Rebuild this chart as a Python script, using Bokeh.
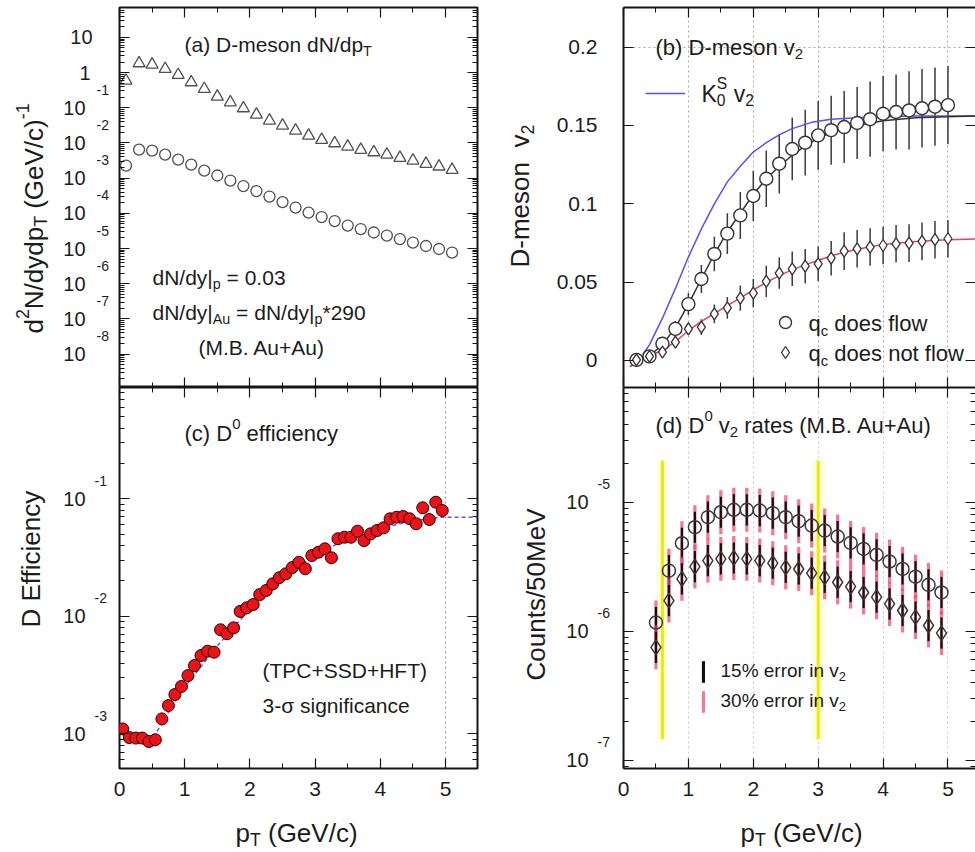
import math
from bokeh.plotting import figure
from bokeh.models import (Range1d, FixedTicker, LinearAxis, LogAxis, Label, Legend, LegendItem,
                          CustomJSTickFormatter, ColumnDataSource)
from bokeh.layouts import row, column
from bokeh.embed import file_html
from bokeh.resources import INLINE

FONT = "Liberation Sans"
INK = "#1c1c1c"
FRAME = "#151515"

# ---------------- (a) D-meson dN/dpT ----------------
pt_spec = [0.1, 0.3, 0.5, 0.7, 0.9, 1.1, 1.3, 1.5, 1.7, 1.9, 2.1, 2.3, 2.5,
           2.7, 2.9, 3.1, 3.3, 3.5, 3.7, 3.9, 4.1, 4.3, 4.5, 4.7, 4.9, 5.1]
spec_auau = [0.59, 1.84, 1.69, 1.27, 0.86, 0.53, 0.344, 0.208, 0.143, 0.0968, 0.064,
             0.0433, 0.0312, 0.0225, 0.0162, 0.01225, 0.0098, 0.0079, 0.00637, 0.00544,
             0.00468, 0.00377, 0.00316, 0.00255, 0.00214, 0.00172]
spec_pp = [2.28e-3, 6.49e-3, 6.08e-3, 4.68e-3, 3.37e-3, 2.43e-3, 1.64e-3, 1.19e-3,
           8.55e-4, 5.97e-4, 4.30e-4, 3.00e-4, 2.09e-4, 1.46e-4, 1.05e-4, 7.85e-5,
           6.04e-5, 4.50e-5, 3.58e-5, 2.85e-5, 2.34e-5, 1.86e-5, 1.48e-5, 1.18e-5,
           9.68e-6, 7.69e-6]

# ---------------- (b) D-meson v2 ----------------
pt_v2 = [0.2, 0.4, 0.6, 0.8, 1.0, 1.2, 1.4, 1.6, 1.8, 2.0, 2.2, 2.4, 2.6,
         2.8, 3.0, 3.2, 3.4, 3.6, 3.8, 4.0, 4.2, 4.4, 4.6, 4.8, 5.0]
v2_flow = [0.0004, 0.0026, 0.0107, 0.0202, 0.036, 0.052, 0.068, 0.081, 0.0926, 0.105,
           0.116, 0.1256, 0.135, 0.139, 0.1437, 0.147, 0.149, 0.1516, 0.154, 0.1575,
           0.1586, 0.1596, 0.161, 0.162, 0.163]
v2_flow_err = [0.001, 0.002, 0.004, 0.005, 0.007, 0.009, 0.011, 0.013, 0.015, 0.016,
               0.018, 0.019, 0.020, 0.021, 0.022, 0.022, 0.023, 0.023, 0.024, 0.024,
               0.024, 0.025, 0.025, 0.025, 0.025]
v2_noflow = [0.0004, 0.0026, 0.0053, 0.0117, 0.0202, 0.0213, 0.0298, 0.0336, 0.0398,
             0.043, 0.0505, 0.0558, 0.0585, 0.0602, 0.0617, 0.0653, 0.0698, 0.0713,
             0.0724, 0.0734, 0.0745, 0.0749, 0.076, 0.0771, 0.0777]
v2_noflow_err = [0.0008, 0.0015, 0.002, 0.003, 0.004, 0.005, 0.006, 0.007, 0.008, 0.009,
                 0.010, 0.010, 0.011, 0.011, 0.011, 0.011, 0.012, 0.012, 0.012, 0.012,
                 0.012, 0.012, 0.012, 0.012, 0.012]
fit_pt = [0.1, 0.2, 0.4, 0.6, 0.8, 1.0, 1.2, 1.4, 1.6, 1.8, 2.0, 2.2, 2.4, 2.6, 2.8,
          3.0, 3.3, 3.6, 4.0, 4.5, 5.0, 5.42]
fit_flow = [-0.004, -0.001, 0.003, 0.010, 0.021, 0.036, 0.052, 0.068, 0.082, 0.094,
            0.106, 0.116, 0.124, 0.131, 0.137, 0.142, 0.147, 0.150, 0.153, 0.155,
            0.1555, 0.156]
fit_noflow = [-0.004, -0.001, 0.003, 0.0065, 0.012, 0.019, 0.025, 0.030, 0.035, 0.040,
              0.045, 0.050, 0.054, 0.058, 0.061, 0.064, 0.068, 0.071, 0.074, 0.076,
              0.077, 0.0775]
ks_pt = [0.3, 0.4, 0.6, 0.8, 1.0, 1.2, 1.4, 1.6, 1.8, 2.0, 2.2, 2.4, 2.6, 2.9, 3.2,
         3.6, 4.0, 4.5, 5.0, 5.42]
ks_v2 = [0.004, 0.010, 0.027, 0.046, 0.066, 0.084, 0.100, 0.114, 0.124, 0.133, 0.139,
         0.144, 0.148, 0.152, 0.154, 0.155, 0.1555, 0.156, 0.156, 0.156]
v2_ticks = [0, 0.05, 0.1, 0.15, 0.2]
v2_tick_text = ["0", "0.05", "0.1", "0.15", "0.2"]

# ---------------- (c) D0 efficiency ----------------
pt_eff = [0.05, 0.15, 0.25, 0.35, 0.45, 0.55, 0.65, 0.75, 0.85, 0.95, 1.05, 1.15, 1.25,
          1.35, 1.45, 1.55, 1.65, 1.75, 1.85, 1.95, 2.05, 2.15, 2.25, 2.35, 2.45, 2.55,
          2.65, 2.75, 2.85, 2.95, 3.05, 3.15, 3.25, 3.35, 3.45, 3.55, 3.65, 3.75, 3.85,
          3.95, 4.05, 4.15, 4.25, 4.35, 4.45, 4.55, 4.65, 4.75, 4.85, 4.95]
eff = [1.10e-3, 9.3e-4, 9.2e-4, 9.2e-4, 8.6e-4, 8.9e-4, 1.34e-3, 1.74e-3, 2.16e-3,
       2.53e-3, 3.13e-3, 3.81e-3, 4.64e-3, 5.05e-3, 4.95e-3, 7.68e-3, 7.10e-3, 7.98e-3,
       1.10e-2, 1.18e-2, 1.26e-2, 1.53e-2, 1.66e-2, 1.89e-2, 2.13e-2, 2.30e-2, 2.60e-2,
       2.88e-2, 2.54e-2, 3.29e-2, 3.51e-2, 3.75e-2, 3.15e-2, 4.57e-2, 4.71e-2, 4.71e-2,
       5.30e-2, 4.41e-2, 5.03e-2, 5.37e-2, 5.66e-2, 6.76e-2, 6.97e-2, 7.06e-2, 6.76e-2,
       6.13e-2, 8.38e-2, 6.67e-2, 9.35e-2, 7.95e-2]
eff_fit_pt = [0.45, 0.6, 0.8, 1.0, 1.5, 2.0, 2.5, 3.0, 3.5, 4.0, 4.5, 4.95, 5.5]
eff_fit = [8.4e-4, 1.1e-3, 1.7e-3, 2.5e-3, 5.6e-3, 1.15e-2, 2.15e-2, 3.3e-2, 4.6e-2,
           5.6e-2, 6.5e-2, 6.97e-2, 6.97e-2]

# ---------------- (d) D0 v2 rates ----------------
pt_rate = [0.5, 0.7, 0.9, 1.1, 1.3, 1.5, 1.7, 1.9, 2.1, 2.3, 2.5, 2.7, 2.9, 3.1, 3.3,
           3.5, 3.7, 3.9, 4.1, 4.3, 4.5, 4.7, 4.9]
rate_flow = [1.17e-6, 2.95e-6, 4.81e-6, 6.40e-6, 7.66e-6, 8.36e-6, 8.73e-6, 8.73e-6,
             8.61e-6, 8.22e-6, 7.66e-6, 7.13e-6, 6.59e-6, 6.03e-6, 5.42e-6, 4.84e-6,
             4.35e-6, 3.91e-6, 3.47e-6, 3.04e-6, 2.65e-6, 2.29e-6, 2.00e-6]
rate_noflow = [7.52e-7, 1.73e-6, 2.55e-6, 3.17e-6, 3.53e-6, 3.64e-6, 3.70e-6, 3.64e-6,
               3.53e-6, 3.37e-6, 3.13e-6, 3.04e-6, 2.82e-6, 2.62e-6, 2.40e-6, 2.22e-6,
               2.00e-6, 1.84e-6, 1.63e-6, 1.45e-6, 1.29e-6, 1.11e-6, 9.7e-7]
err15_factor = 1.32   # spread of the counts for a 15% v2 error
err30_factor = 1.48   # spread of the counts for a 30% v2 error
window_pt = [0.6, 3.0]
window_lo = [1.46e-7, 1.46e-7]
window_hi = [2.1e-5, 2.1e-5]

# Liberation Sans advance widths (1/1000 em), used to lay out sub/superscripts
ADV = {" ": 278, "(": 333, ")": 333, "*": 389, "+": 584, "-": 333, ".": 278, "/": 278,
       "=": 584, "%": 889, "|": 260, "σ": 571,
       "a": 556, "b": 556, "c": 500, "d": 556, "e": 556, "f": 278, "g": 556, "h": 556,
       "i": 222, "l": 222, "m": 833, "n": 556, "o": 556, "p": 556, "q": 556, "r": 333,
       "s": 500, "t": 278, "u": 556, "v": 500, "w": 722, "y": 500,
       "A": 667, "B": 667, "C": 722, "D": 722, "E": 667, "F": 611, "G": 778, "H": 722,
       "K": 667, "M": 833, "N": 722, "P": 667, "S": 667, "T": 611, "V": 667}


def text_width(s, size):
    return sum(ADV.get(ch, 556) for ch in s) / 1000.0 * size


def rich_text(p, X, Y, origin, parts, size, angle=0.0, color=INK):
    """Lay out text with sub/superscripts; X, Y are page pixels of the start point,
    origin is the page position of the frame's bottom-left corner."""
    fx, fy = origin
    sx0, sy0 = X - fx, fy - Y
    adv = 0.0

    def put(txt, fs, shift, a):
        lead = len(txt) - len(txt.lstrip(" "))
        a += text_width(" " * lead, fs)
        txt = txt.strip(" ")
        if angle:
            x, y = sx0 - shift, sy0 + a
        else:
            x, y = sx0 + a, sy0 + shift
        p.add_layout(Label(x=x, y=y, x_units="screen", y_units="screen", text=txt,
                           angle=angle, text_font=FONT, text_font_size=f"{fs:.1f}px",
                           text_color=color, text_align="left", text_baseline="middle"))

    for txt, kind in parts:
        if kind == "n":
            put(txt, size, 0.0, adv)
            adv += text_width(txt, size)
        elif kind == "sub":
            fs = 0.68 * size
            put(txt, fs, -0.30 * size, adv)
            adv += text_width(txt, fs)
        elif kind == "sup":
            fs = 0.68 * size
            put(txt, fs, 0.42 * size, adv)
            adv += text_width(txt, fs)
        else:  # stacked superscript / subscript
            sup, sub = txt
            fs = 0.68 * size
            put(sup, fs, 0.42 * size, adv)
            put(sub, fs, -0.30 * size, adv)
            adv += max(text_width(sup, fs), text_width(sub, fs))


def decade_labels(t, exps, x_ten, x_exp, x_one=None, x_top=None, size=20, sup_size=14):
    """Power-of-ten tick labels, placed on a text strip sharing the panel's y range."""
    for e in exps:
        if e == 1:
            txt, xr = "10", x_top
        elif e == 0:
            txt, xr = "1", x_one
        else:
            txt, xr = "10", x_ten
        t.add_layout(Label(x=xr, y=10.0 ** e, x_units="screen", y_units="data", text=txt,
                           text_font=FONT, text_font_size=f"{size}px", text_color=INK,
                           text_align="right", text_baseline="middle"))
        if e < 0:
            t.add_layout(Label(x=x_exp, y=10.0 ** e, x_units="screen", y_units="data",
                               y_offset=18, text=str(e), text_font=FONT,
                               text_font_size=f"{sup_size}px", text_color=INK,
                               text_align="left", text_baseline="middle"))


def style_axis(ax, ticks, minor, labels=False, line=True):
    ax.ticker = FixedTicker(ticks=ticks, minor_ticks=minor)
    ax.major_tick_in = 10
    ax.major_tick_out = 0
    ax.minor_tick_in = 5
    ax.minor_tick_out = 0
    ax.major_tick_line_color = FRAME
    ax.minor_tick_line_color = FRAME
    ax.major_tick_line_width = 1.2
    ax.minor_tick_line_width = 1
    ax.axis_line_color = FRAME if line else None
    ax.axis_line_width = 2
    if labels:
        ax.major_label_text_font = FONT
        ax.major_label_text_font_size = "21px"
        ax.major_label_text_color = INK
    else:
        ax.formatter = CustomJSTickFormatter(code="return '';")
        ax.major_label_text_font_size = "0px"
        ax.major_label_standoff = 0


def make_panel(width, height, x_end, y_lo, y_hi, log_y, b_left, b_top, b_bottom, b_right, outline):
    p = figure(width=width, height=height, x_range=Range1d(0, x_end),
               y_range=Range1d(y_lo, y_hi), y_axis_type="log" if log_y else "linear",
               output_backend="svg", toolbar_location=None,
               min_border_left=b_left, min_border_top=b_top,
               min_border_bottom=b_bottom, min_border_right=b_right)
    p.background_fill_color = "white"
    p.border_fill_color = "white"
    p.outline_line_color = FRAME if outline else None
    p.outline_line_width = 2
    p.xgrid.grid_line_color = None
    p.ygrid.grid_line_color = None
    p.add_layout(LinearAxis(), "above")
    p.add_layout(LogAxis() if log_y else LinearAxis(), "right")
    return p


def make_text_strip(width, height, y_range, log_y, b_top, b_bottom):
    """Axis-free canvas holding tick labels and titles beside a panel."""
    t = figure(width=width, height=height, x_range=Range1d(0, 1), y_range=y_range,
               y_axis_type="log" if log_y else "linear", x_axis_location=None,
               y_axis_location=None, output_backend="svg", toolbar_location=None,
               min_border_left=0, min_border_right=0, min_border_top=b_top,
               min_border_bottom=b_bottom)
    t.outline_line_color = None
    t.background_fill_color = "white"
    t.border_fill_color = "white"
    t.xgrid.visible = False
    t.ygrid.visible = False
    return t


X_MAJOR = [0, 1, 2, 3, 4, 5]
X_MINOR = [0.5, 1.5, 2.5, 3.5, 4.5]


def log_minor(e0, e1):
    return [k * 10.0 ** e for e in range(e0, e1) for k in range(2, 10)]


ORIGIN_A = (119, 387)
ORIGIN_B = (623, 387)
ORIGIN_C = (119, 768)
ORIGIN_D = (623, 768)

# ======================= (a) =======================
pa = make_panel(364, 387, 5.49, 10 ** -8.95, 10 ** 1.85, True, 3, 7, 0, 3, True)
style_axis(pa.below[0], X_MAJOR, X_MINOR, line=False)
style_axis(pa.above[0], X_MAJOR, X_MINOR, line=False)
dec_a = list(range(-8, 2))
for ax in (pa.left[0], pa.right[0]):
    style_axis(ax, [10.0 ** e for e in dec_a], log_minor(-9, 2), line=False)
pa.scatter(pt_spec, spec_auau, marker="triangle", size=12, fill_color=None,
           line_color="#505050", line_width=1.3)
pa.scatter(pt_spec, spec_pp, marker="circle", size=11, fill_color=None,
           line_color="#505050", line_width=1.3)
rich_text(pa, 184, 44, ORIGIN_A, [("(a) D-meson dN/dp", "n"), ("T", "sub")], 21)
rich_text(pa, 152, 277, ORIGIN_A, [("dN/dy|", "n"), ("p", "sub"), (" = 0.03", "n")], 21)
rich_text(pa, 152, 312, ORIGIN_A, [("dN/dy|", "n"), ("Au", "sub"), (" = dN/dy|", "n"),
                                   ("p", "sub"), ("*290", "n")], 21)
rich_text(pa, 198, 347, ORIGIN_A, [("(M.B. Au+Au)", "n")], 21)

ta = make_text_strip(116, 387, pa.y_range, True, 7, 0)
decade_labels(ta, dec_a, x_ten=85, x_exp=96, x_one=90, x_top=92)
rich_text(ta, 33, 333, (0, 387), [("d", "n"), ("2", "sup"), ("N/dydp", "n"), ("T", "sub"),
                                  (" (GeV/c)", "n"), ("-1", "sup")], 26, angle=math.pi / 2)

# ======================= (b) =======================
pb = make_panel(355, 387, 5.424, -0.01724, 0.2253, False, 3, 7, 0, 0, False)
style_axis(pb.below[0], X_MAJOR, X_MINOR)
style_axis(pb.above[0], X_MAJOR, X_MINOR)
style_axis(pb.left[0], v2_ticks, [])
style_axis(pb.right[0], v2_ticks, [], line=False)
pb.xgrid.ticker = FixedTicker(ticks=[1, 2, 3, 4, 5])
pb.xgrid.grid_line_color = "#a8a8a8"
pb.xgrid.grid_line_dash = "2 3"
pb.ygrid.ticker = FixedTicker(ticks=[0.2])
pb.ygrid.grid_line_color = "#a8a8a8"
pb.ygrid.grid_line_dash = "2 3"

src_flow = ColumnDataSource(dict(x=pt_v2, y=v2_flow,
                                 lo=[v - e for v, e in zip(v2_flow, v2_flow_err)],
                                 hi=[v + e for v, e in zip(v2_flow, v2_flow_err)]))
src_noflow = ColumnDataSource(dict(x=pt_v2, y=v2_noflow,
                                   lo=[v - e for v, e in zip(v2_noflow, v2_noflow_err)],
                                   hi=[v + e for v, e in zip(v2_noflow, v2_noflow_err)]))
pb.segment(x0="x", y0="lo", x1="x", y1="hi", source=src_flow, line_color="#3a3a3a", line_width=1.5)
pb.segment(x0="x", y0="lo", x1="x", y1="hi", source=src_noflow, line_color="#3a3a3a", line_width=1.5)
r_ks = pb.line(ks_pt, ks_v2, line_color="#5a4ff0", line_width=1.5)
pb.line(fit_pt, fit_flow, line_color="#333333", line_width=1.5)
pb.line(fit_pt, fit_noflow, line_color="#e0407a", line_width=1.5)
r_flow = pb.scatter("x", "y", source=src_flow, marker="circle", size=13, fill_color="white",
                    line_color="#333333", line_width=1.4)
r_noflow = pb.scatter("x", "y", source=src_noflow, marker="diamond", size=12, fill_color="white",
                      line_color="#333333", line_width=1.3)
leg_ks = Legend(items=[LegendItem(label=" ", renderers=[r_ks])], location=(22, 284),
                glyph_width=40, glyph_height=20, padding=0, margin=0, spacing=0,
                label_standoff=0, label_width=1, label_text_font_size="1px",
                border_line_color=None, background_fill_alpha=0)
leg_pts = Legend(items=[LegendItem(label=" ", renderers=[r_flow]),
                        LegendItem(label=" ", renderers=[r_noflow])], location=(147, 20),
                 glyph_width=30, glyph_height=30, padding=0, margin=0, spacing=0,
                 label_standoff=0, label_width=1, label_text_font_size="1px",
                 border_line_color=None, background_fill_alpha=0)
pb.add_layout(leg_ks)
pb.add_layout(leg_pts)
rich_text(pb, 655, 47, ORIGIN_B, [("(b) D-meson v", "n"), ("2", "sub")], 22)
rich_text(pb, 701, 93, ORIGIN_B, [("K", "n"), (("S", "0"), "stack"), (" v", "n"), ("2", "sub")], 23)
rich_text(pb, 808, 323, ORIGIN_B, [("q", "n"), ("c", "sub"), (" does flow", "n")], 22)
rich_text(pb, 808, 353, ORIGIN_B, [("q", "n"), ("c", "sub"), (" does not flow", "n")], 22)

tb = make_text_strip(140, 387, pb.y_range, False, 7, 0)
for tv, tt in zip(v2_ticks, v2_tick_text):
    tb.add_layout(Label(x=117, y=tv, x_units="screen", y_units="data", text=tt,
                        text_font=FONT, text_font_size="21px", text_color=INK,
                        text_align="right", text_baseline="middle"))
rich_text(tb, 519, 267, (480, 387), [("D-meson", "n"), ("  v", "n"), ("2", "sub")], 26,
          angle=math.pi / 2)

# ======================= (c) =======================
pc = make_panel(372, 425, 5.49, 10 ** -3.295, 10 ** -0.053, True, 11, 0, 44, 3, True)
style_axis(pc.below[0], X_MAJOR, X_MINOR, labels=True, line=False)
pc.below[0].major_label_standoff = 13
style_axis(pc.above[0], X_MAJOR, X_MINOR, line=False)
dec_c = [-3, -2, -1]
for ax in (pc.left[0], pc.right[0]):
    style_axis(ax, [10.0 ** e for e in dec_c], log_minor(-4, 0), line=False)
pc.xgrid.ticker = FixedTicker(ticks=[5])
pc.xgrid.grid_line_color = "#9a9a9a"
pc.xgrid.grid_line_dash = "2 3"
pc.line(eff_fit_pt, eff_fit, line_color="#5a5ae6", line_width=1.5, line_dash="4 3")
pc.scatter(pt_eff, eff, marker="circle", size=12, fill_color="#ec1218",
           line_color="#2a0000", line_width=1)
rich_text(pc, 184, 433, ORIGIN_C, [("(c) D", "n"), ("0", "sup"), (" efficiency", "n")], 22)
rich_text(pc, 262, 670, ORIGIN_C, [("(TPC+SSD+HFT)", "n")], 21)
rich_text(pc, 262, 705, ORIGIN_C, [("3-σ significance", "n")], 21)

tc = make_text_strip(108, 425, pc.y_range, True, 0, 44)
decade_labels(tc, dec_c, x_ten=85, x_exp=94)
rich_text(tc, 30, 627, (0, 768), [("D Efficiency", "n")], 26, angle=math.pi / 2)

# ======================= (d) =======================
pd = make_panel(364, 425, 5.424, 10 ** -7.062, 10 ** -4.112, True, 12, 0, 44, 0, False)
style_axis(pd.below[0], X_MAJOR, X_MINOR, labels=True)
pd.below[0].major_label_standoff = 13
style_axis(pd.above[0], X_MAJOR, X_MINOR)
dec_d = [-7, -6, -5]
style_axis(pd.left[0], [10.0 ** e for e in dec_d], log_minor(-8, -4))
style_axis(pd.right[0], [10.0 ** e for e in dec_d], log_minor(-8, -4), line=False)
pd.xgrid.ticker = FixedTicker(ticks=[1, 2, 3, 4, 5])
pd.xgrid.grid_line_color = "#c8c8c8"
pd.xgrid.grid_line_dash = "2 3"

# acceptance window
pd.segment(x0=window_pt, y0=window_lo, x1=window_pt, y1=window_hi,
           line_color="#f4f400", line_width=12, line_alpha=0.12)
pd.segment(x0=window_pt, y0=window_lo, x1=window_pt, y1=window_hi,
           line_color="#ecec00", line_width=3)

red_bars = None
black_bars = None
for rates in (rate_flow, rate_noflow):
    r30 = pd.vbar(x=pt_rate, bottom=[r / err30_factor for r in rates],
                  top=[r * err30_factor for r in rates], width=0.05,
                  fill_color="#f24a6e", fill_alpha=0.75, line_color=None)
    r15 = pd.vbar(x=pt_rate, bottom=[r / err15_factor for r in rates],
                  top=[r * err15_factor for r in rates], width=0.034,
                  fill_color="#111111", line_color=None)
    red_bars = red_bars or r30
    black_bars = black_bars or r15
pd.scatter(pt_rate, rate_flow, marker="circle", size=13, fill_color=None,
           line_color="#3a3a3a", line_width=1.5)
pd.scatter(pt_rate, rate_noflow, marker="diamond", size=15, fill_color=None,
           line_color="#3a3a3a", line_width=1.5)
leg_err = Legend(items=[LegendItem(label=" ", renderers=[black_bars]),
                        LegendItem(label=" ", renderers=[red_bars])], location=(78, 53),
                 glyph_width=4, glyph_height=27, padding=0, margin=0, spacing=3,
                 label_standoff=0, label_width=1, label_text_font_size="1px",
                 border_line_color=None, background_fill_alpha=0)
pd.add_layout(leg_err)
rich_text(pd, 655, 425, ORIGIN_D, [("(d) D", "n"), ("0", "sup"), (" v", "n"), ("2", "sub"),
                                   (" rates (M.B. Au+Au)", "n")], 22)
rich_text(pd, 720, 670, ORIGIN_D, [("15% error in v", "n"), ("2", "sub")], 19)
rich_text(pd, 720, 700, ORIGIN_D, [("30% error in v", "n"), ("2", "sub")], 19)

td = make_text_strip(131, 425, pd.y_range, True, 0, 44)
decade_labels(td, dec_d, x_ten=108, x_exp=117)
rich_text(td, 535, 680, (480, 768), [("Counts/50MeV", "n")], 26, angle=math.pi / 2)

# ======================= x titles =======================
strip = figure(width=975, height=40, x_range=Range1d(0, 1), y_range=Range1d(0, 1),
               x_axis_location=None, y_axis_location=None, output_backend="svg",
               toolbar_location=None, min_border_left=0, min_border_right=0,
               min_border_top=0, min_border_bottom=0)
strip.outline_line_color = None
strip.xgrid.visible = False
strip.ygrid.visible = False
for x0 in (235, 740):
    rich_text(strip, x0, 832, (0, 852), [("p", "n"), ("T", "sub"), (" (GeV/c)", "n")], 26)

page = column(row(ta, pa, tb, pb), row(tc, pc, td, pd), strip)
open("out.html", "w").write(file_html(page, INLINE))
